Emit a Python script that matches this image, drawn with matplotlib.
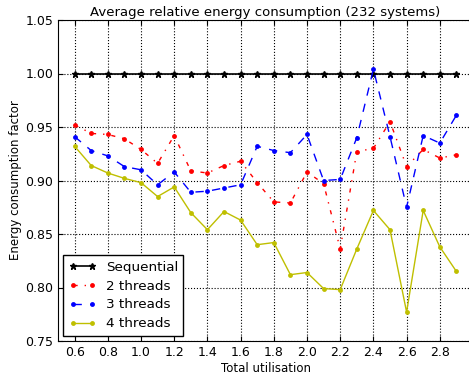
import numpy as np
import matplotlib
matplotlib.use('Agg')
import matplotlib.pyplot as plt

# データ
util = [0.6, 0.7, 0.8, 0.9, 1.0, 1.1, 1.2, 1.3, 1.4, 1.5, 1.6, 1.7, 1.8,
        1.9, 2.0, 2.1, 2.2, 2.3, 2.4, 2.5, 2.6, 2.7, 2.8, 2.9]
sequential = [1.0] * len(util)
threads2 = [0.952, 0.944, 0.943, 0.939, 0.929, 0.916, 0.942, 0.909, 0.907,
            0.914, 0.918, 0.898, 0.880, 0.879, 0.908, 0.897, 0.836, 0.927,
            0.930, 0.955, 0.913, 0.929, 0.921, 0.924]
threads3 = [0.941, 0.928, 0.923, 0.913, 0.910, 0.896, 0.908, 0.889, 0.890,
            0.893, 0.896, 0.932, 0.928, 0.926, 0.943, 0.900, 0.901, 0.940,
            1.004, 0.941, 0.875, 0.942, 0.935, 0.961]
threads4 = [0.932, 0.914, 0.907, 0.902, 0.898, 0.885, 0.894, 0.870, 0.854,
            0.871, 0.863, 0.840, 0.842, 0.812, 0.814, 0.799, 0.798, 0.836,
            0.872, 0.854, 0.777, 0.872, 0.838, 0.815]
xticks = [0.6, 0.8, 1.0, 1.2, 1.4, 1.6, 1.8, 2.0, 2.2, 2.4, 2.6, 2.8]
yticks = [0.75, 0.80, 0.85, 0.90, 0.95, 1.00, 1.05]

plt.rcParams['xtick.direction'] = 'in'
plt.rcParams['ytick.direction'] = 'in'
plt.rcParams['xtick.top'] = True
plt.rcParams['ytick.right'] = True

# グラフの描画
fig = plt.figure(figsize=(4.69, 3.76), dpi=100)
ax = fig.add_axes([58/469, 35/376, 415/469, 321/376])

ax.plot(util, sequential, 'k-', marker='*', markersize=5, linewidth=1.2, label='Sequential')
ax.plot(util, threads2, color='r', dashes=(3, 5, 1, 5), marker='o', markersize=3.5,
        markeredgewidth=0, linewidth=1, label='2 threads')
ax.plot(util, threads3, color='b', dashes=(6, 6), marker='o', markersize=3.5,
        markeredgewidth=0, linewidth=1, label='3 threads')
ax.plot(util, threads4, 'y-', marker='o', markersize=3.5, markeredgewidth=0, linewidth=1, label='4 threads')

ax.set_xlim(0.5, 3.0)
ax.set_ylim(0.75, 1.05)
ax.set_xticks(xticks)
ax.set_yticks(yticks)
ax.set_xticklabels(['%.1f' % t for t in xticks], fontsize=9)
ax.set_yticklabels(['%.2f' % t for t in yticks], fontsize=9)
ax.grid(True, color='k', linestyle=':', linewidth=0.8)
ax.set_xlabel('Total utilisation', fontsize=8.5, labelpad=2)
ax.set_ylabel('Energy consumption factor', fontsize=8.5, labelpad=2)
ax.set_title('Average relative energy consumption (232 systems)', fontsize=9.5, pad=3)
leg = ax.legend(loc='lower left', fontsize=9.7, fancybox=False, numpoints=2,
                framealpha=1, edgecolor='k', borderaxespad=0.4,
                labelspacing=0.43, handlelength=2.0, handletextpad=0.75,
                borderpad=0.4)
leg.get_frame().set_linewidth(1)

plt.savefig('out.png', dpi=100)
